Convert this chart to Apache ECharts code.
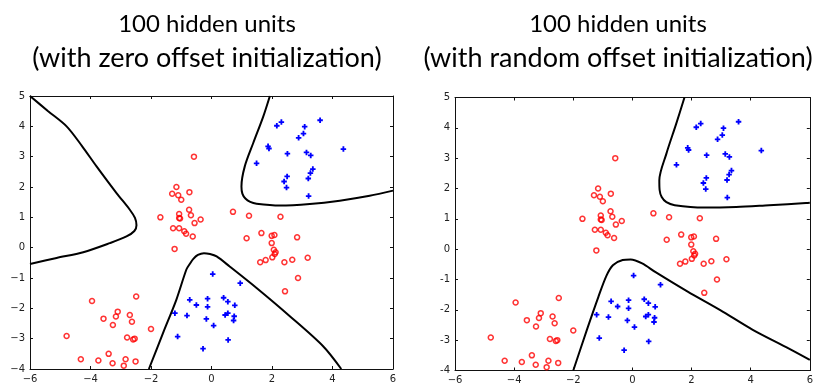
<!DOCTYPE html>
<html>
<head>
<meta charset="utf-8">
<script src="https://cdn.jsdelivr.net/npm/echarts@6/dist/echarts.min.js"></script>
<style>
  html, body { margin: 0; padding: 0; background: #fff; }
  #chart { width: 816px; height: 386px; }
</style>
</head>
<body>
<div id="chart"></div>
<script>
// data points (same in both panels)
const redPoints = [
  [-0.58, 3.0], [-1.16, 2.0], [-1.30, 1.78], [-1.10, 1.73], [-1.0, 1.58], [-0.73, 1.83],
  [-0.74, 1.25], [-0.68, 1.07], [-1.07, 1.11], [-1.07, 0.98], [-1.04, 0.96], [-1.69, 1.0],
  [-0.56, 0.81], [-0.36, 0.93], [-1.27, 0.64], [-1.07, 0.64], [-0.90, 0.54], [-0.84, 0.46],
  [-0.62, 0.37], [-1.22, -0.04],
  [0.71, 1.18], [1.24, 1.05], [2.28, 1.02], [1.65, 0.48], [1.16, 0.31], [1.99, 0.39],
  [2.08, 0.42], [2.83, 0.34], [1.99, 0.15], [2.06, -0.07], [2.12, -0.15], [2.09, -0.21],
  [2.01, -0.32], [1.79, -0.41], [1.61, -0.48], [2.41, -0.48], [2.67, -0.40], [3.18, -0.33],
  [2.86, -1.00], [2.43, -1.44],
  [-3.95, -1.76], [-2.49, -1.61], [-3.10, -2.11], [-2.70, -2.22], [-3.57, -2.34], [-3.16, -2.27],
  [-2.63, -2.44], [-3.26, -2.55], [-2.0, -2.68], [-4.79, -2.91], [-2.79, -2.96], [-2.59, -3.03],
  [-2.54, -3.0], [-3.40, -3.50], [-4.32, -3.68], [-3.74, -3.72], [-2.84, -3.68], [-3.27, -3.81],
  [-2.51, -3.75], [-2.90, -3.89]
];
const bluePoints = [
  [3.59, 4.20], [2.31, 4.14], [2.16, 4.02], [3.08, 3.99], [3.04, 3.76], [2.88, 3.62],
  [1.87, 3.34], [1.90, 3.27], [2.51, 3.10], [3.14, 3.14], [3.28, 3.04], [4.36, 3.25],
  [1.49, 2.78], [3.35, 2.59], [3.27, 2.46], [3.20, 2.28], [2.50, 2.35], [2.40, 2.18],
  [2.48, 1.98], [3.21, 1.70],
  [0.04, -0.87], [0.95, -1.17], [0.40, -1.65], [0.54, -1.78], [0.77, -1.90], [-0.13, -1.68],
  [-0.13, -1.95], [-0.50, -1.89], [-0.72, -1.72], [0.45, -2.22], [0.54, -2.16], [0.75, -2.26],
  [0.73, -2.40], [-0.17, -2.35], [0.07, -2.57], [0.55, -3.04], [-0.28, -3.33], [-1.21, -2.16],
  [-0.81, -2.24], [-1.12, -2.93]
];

// decision boundaries, zero offset init
const zeroLeftCurve = [
  [-6, 5], [-5.4, 4.5], [-4.79, 4.0], [-4.28, 3.35], [-3.80, 2.68], [-3.14, 1.80], [-2.70, 1.25], [-2.53, 0.98],
  [-2.48, 0.74], [-2.55, 0.55], [-2.81, 0.37], [-3.36, 0.15], [-4.24, -0.15], [-5.12, -0.34], [-6, -0.54]
];
const zeroTopCurve = [
  [1.93, 5], [1.71, 4.32], [1.38, 3.45], [1.10, 2.68], [0.99, 2.02], [1.02, 1.78], [1.12, 1.62],
  [1.28, 1.51], [1.49, 1.45], [2.26, 1.39], [3.25, 1.44], [4.24, 1.55], [5.23, 1.71], [6, 1.88]
];
const zeroBottomCurve = [
  [-2.07, -4], [-1.60, -2.81], [-1.16, -1.71], [-0.83, -0.72], [-0.72, -0.54], [-0.60, -0.37],
  [-0.45, -0.24], [-0.25, -0.18], [-0.05, -0.21], [0.17, -0.29], [0.60, -0.62], [1.49, -1.33],
  [2.59, -2.26], [3.69, -3.25], [4.29, -4]
];
// decision boundaries, random offset init
const randTopCurve = [
  [1.76, 5], [1.48, 4.13], [1.15, 3.15], [0.91, 2.27], [0.92, 1.95], [0.99, 1.72], [1.15, 1.55],
  [1.43, 1.45], [2.42, 1.37], [3.51, 1.39], [4.62, 1.45], [5.87, 1.52], [6, 1.53]
];
const randBottomCurve = [
  [-2.0, -4], [-1.54, -2.66], [-1.15, -1.57], [-0.88, -0.88], [-0.66, -0.53], [-0.33, -0.36],
  [-0.06, -0.34], [0.33, -0.47], [0.77, -0.75], [1.87, -1.40], [2.97, -2.01], [4.07, -2.66],
  [5.28, -3.27], [6, -3.65]
];

const titleLine1 = '100 hidden units';
const titleLine2 = ['(with zero offset initialization)', '(with random offset initialization)'];

var chart = echarts.init(document.getElementById('chart'));

const minusFmt = v => String(v).replace('-', '\u2212');
const labelStyle = { fontFamily: 'DejaVu Sans', fontSize: 10, color: '#222' };
const plusPath = 'path://M2,0H4V2H6V4H4V6H2V4H0V2H2Z';

function makeX(gi, pos, showLabel) {
  return {
    type: 'value', gridIndex: gi, position: pos, min: -6, max: 6, interval: 2,
    axisLine: { show: true, onZero: false, lineStyle: { color: '#111', width: 1 } },
    axisTick: { show: true, inside: true, length: 3, lineStyle: { color: '#111' } },
    axisLabel: Object.assign({ show: showLabel, margin: 5, formatter: minusFmt }, labelStyle),
    splitLine: { show: false }
  };
}
function makeY(gi, pos, showLabel, fmt) {
  return {
    type: 'value', gridIndex: gi, position: pos, min: -4, max: 5, interval: 1,
    axisLine: { show: true, onZero: false, lineStyle: { color: '#111', width: 1 } },
    axisTick: { show: true, inside: true, length: 3, lineStyle: { color: '#111' } },
    axisLabel: Object.assign({ show: showLabel, margin: 5, formatter: fmt }, labelStyle),
    splitLine: { show: false }
  };
}
function curve(data, xi, yi) {
  return {
    type: 'line', data: data, xAxisIndex: xi, yAxisIndex: yi, smooth: 0.3,
    showSymbol: false, symbol: 'none', clip: true, silent: true,
    lineStyle: { color: '#000', width: 2 }, emphasis: { disabled: true }
  };
}
function scatterRed(xi, yi) {
  return {
    type: 'scatter', data: redPoints, xAxisIndex: xi, yAxisIndex: yi, symbol: 'circle', symbolSize: 5,
    silent: true, emphasis: { disabled: true },
    itemStyle: { color: 'rgba(255,255,255,0)', borderColor: '#ff0000', borderWidth: 1.5 }
  };
}
function scatterBlue(xi, yi) {
  return {
    type: 'scatter', data: bluePoints, xAxisIndex: xi, yAxisIndex: yi, symbol: plusPath, symbolSize: 5.5,
    silent: true, emphasis: { disabled: true },
    itemStyle: { color: '#0000ff', opacity: 1 }
  };
}
function makeTitle(i, cx) {
  return {
    text: '{a|' + titleLine1 + '}\n{b|' + titleLine2[i] + '}',
    left: cx, top: 2, textAlign: 'center',
    textStyle: {
      fontWeight: 'normal',
      rich: {
        a: { fontFamily: 'Lato', fontSize: 24, fontWeight: 'normal', lineHeight: 34, color: '#000' },
        b: { fontFamily: 'Lato', fontSize: 27, fontWeight: 'normal', lineHeight: 34, color: '#000' }
      }
    }
  };
}

var option = {
  animation: false,
  backgroundColor: '#fff',
  tooltip: { show: false },
  title: [makeTitle(0, 202), makeTitle(1, 613)],
  grid: [
    { left: 30, top: 96, width: 363, height: 273 },
    { left: 455, top: 97.5, width: 364, height: 273 }
  ],
  xAxis: [makeX(0, 'bottom', true), makeX(0, 'top', false), makeX(1, 'bottom', true), makeX(1, 'top', false)],
  yAxis: [makeY(0, 'left', true, minusFmt), makeY(0, 'right', false), makeY(1, 'left', true), makeY(1, 'right', false)],
  series: [
    curve(zeroLeftCurve, 0, 0), curve(zeroTopCurve, 0, 0), curve(zeroBottomCurve, 0, 0),
    scatterRed(0, 0), scatterBlue(0, 0),
    curve(randTopCurve, 2, 2), curve(randBottomCurve, 2, 2),
    scatterRed(2, 2), scatterBlue(2, 2)
  ]
};
chart.setOption(option);
</script>
</body>
</html>
